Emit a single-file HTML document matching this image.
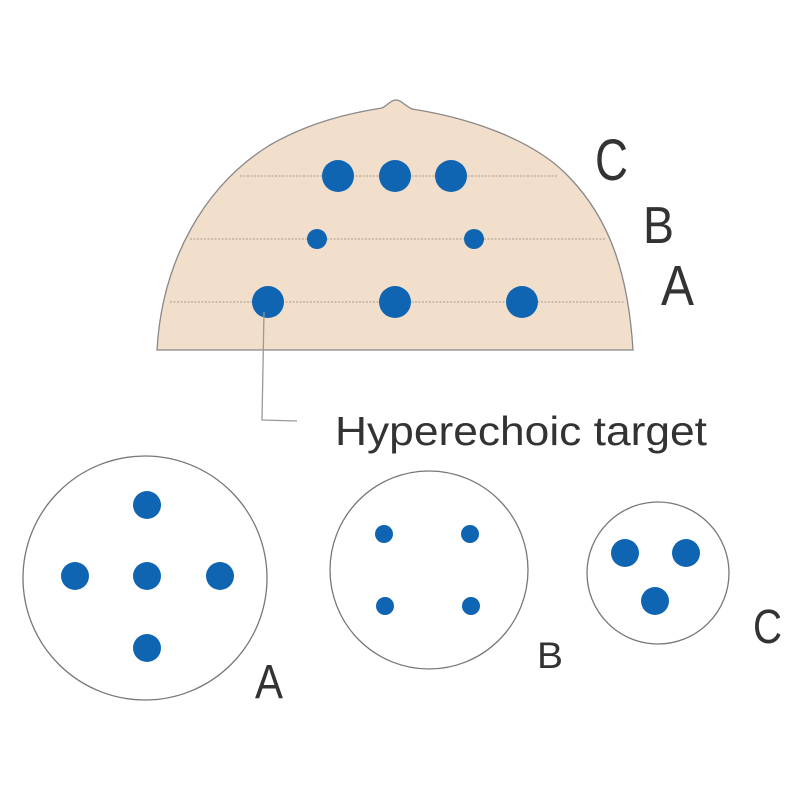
<!DOCTYPE html>
<html><head><meta charset="utf-8"><style>html,body{margin:0;padding:0;background:#fff}svg{display:block}</style></head>
<body>
<svg width="800" height="800" viewBox="0 0 800 800" xmlns="http://www.w3.org/2000/svg" font-family="Liberation Sans, sans-serif" fill="#333">
<path d="M157,350 C162,260 205,185 270,145 C310,122 350,113 382,108 C388,105 391,100 396,100 C401,100 404,105 412,109 C470,118 535,140 570,178 C608,218 628,270 633,350 Z" fill="#f2dfcb" stroke="#888" stroke-width="1.3"/>
<g stroke="#aa9a8a" stroke-width="1" stroke-dasharray="2,1.5">
<line x1="240" y1="176" x2="557" y2="176"/>
<line x1="190" y1="239" x2="605" y2="239"/>
<line x1="170" y1="302" x2="625" y2="302"/>
</g>
<g fill="#0f65b1">
<circle cx="338" cy="176" r="16"/><circle cx="395" cy="176" r="16"/><circle cx="451" cy="176" r="16"/>
<circle cx="317" cy="239" r="10"/><circle cx="474" cy="239" r="10"/>
<circle cx="268" cy="302" r="16"/><circle cx="395" cy="302" r="16"/><circle cx="522" cy="302" r="16"/>
</g>
<polyline points="264,312 262,420 297,421" fill="none" stroke="#999" stroke-width="1.3"/>
<text x="335" y="445" font-size="41" textLength="372" lengthAdjust="spacingAndGlyphs">Hyperechoic target</text>
<text x="595" y="180" font-size="58" textLength="33" lengthAdjust="spacingAndGlyphs">C</text>
<text x="643" y="243" font-size="52" textLength="31" lengthAdjust="spacingAndGlyphs">B</text>
<text x="661" y="305" font-size="57" textLength="33" lengthAdjust="spacingAndGlyphs">A</text>
<g fill="#fff" stroke="#777" stroke-width="1.3">
<circle cx="145" cy="578" r="122"/>
<circle cx="429" cy="570" r="99"/>
<circle cx="658" cy="573" r="71"/>
</g>
<g fill="#0f65b1">
<circle cx="147" cy="505" r="14"/><circle cx="75" cy="576" r="14"/><circle cx="147" cy="576" r="14"/><circle cx="220" cy="576" r="14"/><circle cx="147" cy="648" r="14"/>
<circle cx="384" cy="534" r="9"/><circle cx="470" cy="534" r="9"/><circle cx="385" cy="606" r="9"/><circle cx="471" cy="606" r="9"/>
<circle cx="625" cy="553" r="14"/><circle cx="686" cy="553" r="14"/><circle cx="655" cy="601" r="14"/>
</g>
<text x="255" y="698" font-size="48" textLength="28" lengthAdjust="spacingAndGlyphs">A</text>
<text x="537" y="668" font-size="37" textLength="26" lengthAdjust="spacingAndGlyphs">B</text>
<text x="753" y="643" font-size="48" textLength="29" lengthAdjust="spacingAndGlyphs">C</text>
</svg>
</body></html>
